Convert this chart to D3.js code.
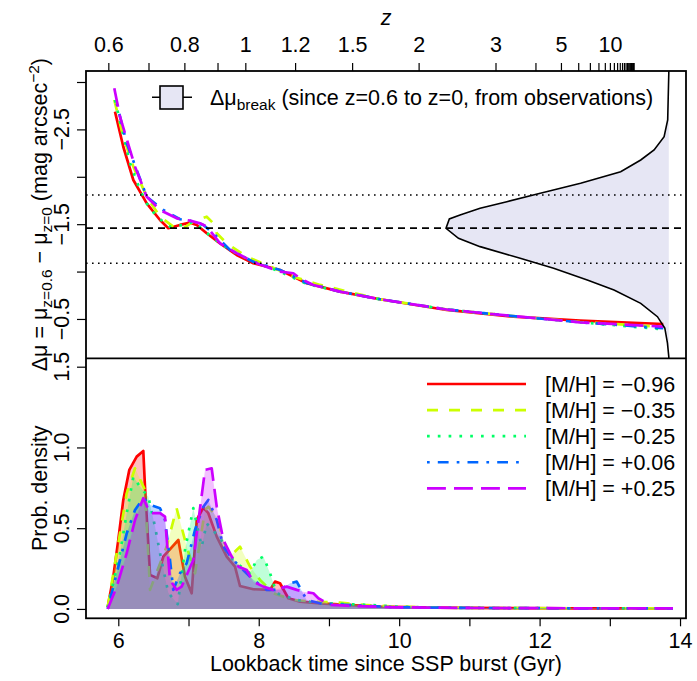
<!DOCTYPE html>
<html><head><meta charset="utf-8">
<script src="https://cdn.jsdelivr.net/npm/d3@7/dist/d3.min.js"></script>
<style>
body{margin:0;background:#fff}
svg{display:block}
text{font-family:"Liberation Sans",Arial,Helvetica,sans-serif;fill:#000}
</style>
</head><body>
<svg id="chart" width="697" height="681"></svg>
<script>
// ---------------- data ----------------
const seriesLabels = ["[M/H] = −0.96","[M/H] = −0.35","[M/H] = −0.25","[M/H] = +0.06","[M/H] = +0.25"];
const seriesColors = ["#FF0000","#CCFF00","#00FF66","#0066FF","#CC00FF"];

// Top panel: Delta mu vs lookback time (Gyr)
const muT_m096 = [5.953,6.071,6.214,6.405,6.594,6.712,6.879,7.021,7.117,7.259,7.449,7.686,7.923,8.303,8.683,9.157,9.727,10.677,11.626,12.576,13.762];
const mu_m096  = [-2.687,-2.317,-1.966,-1.720,-1.544,-1.457,-1.492,-1.516,-1.492,-1.404,-1.298,-1.175,-1.088,-1.017,-0.877,-0.788,-0.708,-0.595,-0.524,-0.482,-0.447];
const muT_m035 = [5.943,6.071,6.214,6.405,6.594,6.783,6.926,7.068,7.259,7.353,7.402,7.544,7.829,8.114,8.493,8.873,9.727,10.677,11.626,12.576,13.762];
const mu_m035  = [-2.810,-2.423,-2.107,-1.790,-1.579,-1.474,-1.457,-1.526,-1.579,-1.509,-1.404,-1.298,-1.157,-1.070,-0.946,-0.859,-0.708,-0.600,-0.530,-0.468,-0.416];
const muT_m025 = [5.953,6.167,6.309,6.405,6.547,6.736,6.926,7.068,7.211,7.353,7.591,7.923,8.303,8.683,9.158,9.727,10.677,11.626,12.576,13.762];
const mu_m025  = [-2.810,-2.142,-1.861,-1.720,-1.579,-1.474,-1.492,-1.526,-1.439,-1.351,-1.228,-1.104,-0.999,-0.870,-0.788,-0.708,-0.600,-0.530,-0.465,-0.391];
const muT_p006 = [5.977,6.120,6.262,6.405,6.641,6.879,7.021,7.211,7.353,7.591,7.923,8.303,8.683,9.158,9.727,10.677,11.626,12.576,13.762];
const mu_p006  = [-2.775,-2.353,-2.072,-1.790,-1.650,-1.552,-1.537,-1.492,-1.404,-1.228,-1.104,-1.017,-0.880,-0.788,-0.708,-0.600,-0.530,-0.465,-0.402];
const muT_p025 = [5.943,6.024,6.238,6.405,6.594,6.832,7.021,7.164,7.259,7.449,7.686,7.971,8.303,8.493,8.588,8.777,9.158,9.727,10.677,11.626,12.576,13.762];
const mu_p025  = [-2.934,-2.634,-2.107,-1.790,-1.650,-1.562,-1.537,-1.509,-1.474,-1.298,-1.193,-1.088,-0.999,-0.982,-0.929,-0.859,-0.788,-0.708,-0.600,-0.530,-0.465,-0.419];

// Observed Delta mu_break distribution (relative density)
const obsMu      = [-3.116,-3.092,-2.599,-2.423,-2.283,-2.177,-2.054,-1.932,-1.826,-1.737,-1.668,-1.597,-1.555,-1.457,-1.351,-1.263,-1.140,-1.035,-0.911,-0.806,-0.665,-0.524,-0.405,-0.244,-0.102,-0.085];
const obsDensity = [0,0,0.005,0.021,0.066,0.126,0.216,0.396,0.577,0.727,0.847,0.937,0.985,1.0,0.944,0.847,0.667,0.517,0.366,0.246,0.126,0.051,0.018,0.006,0,0];
const obsMean = -1.458;
const obsSigmaLines = [-1.808,-1.088];

// Bottom panel: probability density vs lookback time (Gyr)
const pdT_m096 = [5.849,5.929,6.000,6.071,6.157,6.262,6.356,6.380,6.452,6.556,6.641,6.855,6.950,7.045,7.117,7.211,7.282,7.402,7.544,7.662,7.733,7.923,8.161,8.232,8.303,8.421,8.588,8.873,9.253,9.727,10.5,11.5,12.5,13.9];
const pd_m096  = [0.010,0.200,0.427,0.675,0.861,0.943,0.978,0.757,0.211,0.190,0.324,0.427,0.200,0.097,0.551,0.627,0.593,0.448,0.324,0.262,0.142,0.122,0.118,0.169,0.159,0.066,0.045,0.035,0.025,0.014,0.008,0.005,0.004,0.003];
const pdT_m035 = [5.849,6.024,6.120,6.238,6.380,6.452,6.523,6.689,6.830,6.974,7.093,7.235,7.282,7.402,7.496,7.590,7.733,7.876,8.019,8.208,8.493,8.778,9.158,9.490,9.970,10.5,11.5,12.5,13.9];
const pd_m035  = [0.010,0.468,0.716,0.871,0.737,0.118,0.200,0.386,0.624,0.386,0.221,0.613,0.633,0.571,0.427,0.324,0.386,0.262,0.180,0.097,0.056,0.045,0.039,0.025,0.014,0.008,0.005,0.004,0.003];
const pdT_m025 = [5.849,6.024,6.120,6.214,6.309,6.427,6.523,6.594,6.712,6.846,6.950,7.068,7.188,7.259,7.330,7.449,7.544,7.686,7.876,7.971,8.066,8.161,8.256,8.541,8.873,9.585,9.970,10.5,11.5,12.5,13.9];
const pd_m025  = [0.010,0.345,0.592,0.819,0.757,0.695,0.510,0.345,0.100,0.030,0.365,0.624,0.386,0.531,0.490,0.448,0.345,0.283,0.221,0.303,0.324,0.221,0.097,0.056,0.035,0.025,0.014,0.008,0.005,0.004,0.003];
const pdT_p006 = [5.849,5.977,6.120,6.238,6.356,6.452,6.594,6.665,6.736,6.783,6.879,6.974,7.093,7.211,7.282,7.402,7.496,7.638,7.780,7.923,8.113,8.303,8.446,8.541,8.683,8.873,9.250,9.970,10.5,11.5,12.5,13.9];
const pd_p006  = [0.000,0.221,0.468,0.613,0.686,0.644,0.624,0.551,0.303,0.118,0.221,0.283,0.490,0.633,0.675,0.551,0.386,0.303,0.241,0.180,0.118,0.118,0.159,0.169,0.056,0.035,0.025,0.010,0.008,0.005,0.004,0.003];
const pdT_p025 = [5.849,5.977,6.120,6.238,6.356,6.452,6.594,6.665,6.736,6.830,6.902,7.068,7.235,7.330,7.402,7.496,7.615,7.709,7.829,7.923,8.066,8.208,8.398,8.541,8.636,8.778,8.849,9.016,9.250,9.970,10.5,11.5,12.5,13.9];
const pd_p025  = [0.000,0.138,0.345,0.551,0.686,0.593,0.593,0.571,0.180,0.118,0.138,0.303,0.861,0.871,0.633,0.427,0.324,0.262,0.241,0.169,0.138,0.118,0.138,0.118,0.107,0.097,0.066,0.025,0.020,0.010,0.008,0.005,0.004,0.003];

// Axis ticks
const timeTicks = [6,7,8,9,10,11,12,13,14];
const timeTickLabels = ["6","","8","","10","","12","","14"];
const muTicks = [-3.0,-2.5,-2.0,-1.5,-1.0,-0.5];
const muTickLabels = ["","−2.5","","−1.5","","−0.5"];
const pdTicks = [0,0.5,1.0,1.5];
const pdTickLabels = ["0.0","0.5","1.0","1.5"];
const zTickValues = [0.6,0.7,0.8,0.9,1,1.2,1.5,2,3,4,5,6,7,8,9,10,11,12,13,14,15,16,17,18,19,20,21,22,23,24,25];
const zTickTimes  = [5.858,6.430,6.941,7.413,7.809,8.518,9.330,10.277,11.372,11.941,12.304,12.550,12.716,12.838,12.929,13.001,13.058,13.104,13.142,13.174,13.201,13.224,13.244,13.262,13.277,13.290,13.302,13.313,13.322,13.331,13.339];
const zTickLabels = ["0.6","","0.8","","1","1.2","1.5","2","3","","5","","","","","10","","","","","","","","","","","","","","",""];

// ---------------- layout ----------------
const L = 86, R = 686, T = 71, MID = 358.3, B = 618.3;
const FS = 21.5;
const LW = 2.7;
const dashes = [null, "11,11", "2.7,8.1", "2.7,8.1,10.8,8.1", "18.9,8.1"];

const svg = d3.select("#chart");
const x = d3.scaleLinear().domain([5.54, 14.085]).range([L, R]);
const yTop = d3.scaleLinear().domain([-3.116, -0.085]).range([T, MID]);
const yBot = d3.scaleLinear().domain([-0.058, 1.552]).range([B, MID]);

const defs = svg.append("defs");
defs.append("clipPath").attr("id","clipTop").append("rect").attr("x",L).attr("y",T).attr("width",R-L).attr("height",MID-T);
defs.append("clipPath").attr("id","clipBot").append("rect").attr("x",L).attr("y",MID).attr("width",R-L).attr("height",B-MID);

// ---- top panel ----
const gTop = svg.append("g").attr("clip-path","url(#clipTop)");
const obsData = obsMu.map((m,i)=>[m, obsDensity[i]]);
const xd = d3.scaleLinear().domain([0,1]).range([x(13.84), x(10.667)]);
gTop.append("path")
  .attr("d", d3.area().y(d=>yTop(d[0])).x0(xd(0)).x1(d=>xd(d[1]))(obsData))
  .attr("fill","#E6E6F4").attr("stroke","none");

const muSeries = [[muT_m096,mu_m096],[muT_m035,mu_m035],[muT_m025,mu_m025],[muT_p006,mu_p006],[muT_p025,mu_p025]];
const lineTop = d3.line().x(d=>x(d[0])).y(d=>yTop(d[1]));
muSeries.forEach((s,i)=>{
  const pts = s[0].map((t,j)=>[t,s[1][j]]);
  gTop.append("path").attr("d", lineTop(pts)).attr("fill","none")
    .attr("stroke", seriesColors[i]).attr("stroke-width", LW)
    .attr("stroke-dasharray", dashes[i]).attr("stroke-linejoin","round");
});

gTop.append("path")
  .attr("d", d3.line().y(d=>yTop(d[0])).x(d=>xd(d[1]))(obsData))
  .attr("fill","none").attr("stroke","#000").attr("stroke-width",1.6);

gTop.append("line").attr("x1",L).attr("x2",R).attr("y1",yTop(obsMean)).attr("y2",yTop(obsMean))
  .attr("stroke","#000").attr("stroke-width",1.6).attr("stroke-dasharray","7,5");
obsSigmaLines.forEach(v=>{
  gTop.append("line").attr("x1",L).attr("x2",R).attr("y1",yTop(v)).attr("y2",yTop(v))
    .attr("stroke","#000").attr("stroke-width",1.6).attr("stroke-dasharray","1.6,4.4");
});

// ---- bottom panel ----
const gBot = svg.append("g").attr("clip-path","url(#clipBot)");
const pdSeries = [[pdT_m096,pd_m096],[pdT_m035,pd_m035],[pdT_m025,pd_m025],[pdT_p006,pd_p006],[pdT_p025,pd_p025]];
const areaBot = d3.area().x(d=>x(d[0])).y0(yBot(0)).y1(d=>yBot(d[1]));
const lineBot = d3.line().x(d=>x(d[0])).y(d=>yBot(d[1]));
pdSeries.forEach((s,i)=>{
  const pts = s[0].map((t,j)=>[t,s[1][j]]);
  gBot.append("path").attr("d", areaBot(pts)).attr("fill", seriesColors[i]).attr("fill-opacity",0.25).attr("stroke","none");
  gBot.append("path").attr("d", lineBot(pts)).attr("fill","none")
    .attr("stroke", seriesColors[i]).attr("stroke-width", LW)
    .attr("stroke-dasharray", dashes[i]).attr("stroke-linejoin","round");
});

// ---- frames ----
svg.append("rect").attr("x",L).attr("y",T).attr("width",R-L).attr("height",B-T)
  .attr("fill","none").attr("stroke","#000").attr("stroke-width",1.8);
svg.append("line").attr("x1",L).attr("x2",R).attr("y1",MID).attr("y2",MID)
  .attr("stroke","#000").attr("stroke-width",1.8);

// ---- axes ----
function styleAxis(g){
  g.select(".domain").remove();
  g.selectAll(".tick line").attr("stroke","#000").attr("stroke-width",1.2);
  g.selectAll(".tick text").style("font-size",FS+"px").attr("fill","#000");
}
const axB = svg.append("g").attr("transform",`translate(0,${B})`)
  .call(d3.axisBottom(x).tickValues(timeTicks).tickSize(8).tickFormat((d,i)=>timeTickLabels[i]));
styleAxis(axB);
axB.selectAll(".tick text").attr("y",30).attr("dy",0);

const axT = svg.append("g").attr("transform",`translate(0,${T})`)
  .call(d3.axisTop(x).tickValues(zTickTimes).tickSize(8).tickFormat((d,i)=>zTickLabels[i]));
styleAxis(axT);
axT.selectAll(".tick text").attr("y",-19).attr("dy",0);

const axLT = svg.append("g").attr("transform",`translate(${L},0)`)
  .call(d3.axisLeft(yTop).tickValues(muTicks).tickSize(9).tickFormat(""));
styleAxis(axLT);
muTicks.forEach((v,i)=>{
  if(!muTickLabels[i]) return;
  svg.append("text").attr("transform",`translate(69,${yTop(v)}) rotate(-90)`)
    .attr("text-anchor","middle").style("font-size",FS+"px").text(muTickLabels[i]);
});
const axLB = svg.append("g").attr("transform",`translate(${L},0)`)
  .call(d3.axisLeft(yBot).tickValues(pdTicks).tickSize(9).tickFormat(""));
styleAxis(axLB);
pdTicks.forEach((v,i)=>{
  svg.append("text").attr("transform",`translate(69,${yBot(v)}) rotate(-90)`)
    .attr("text-anchor","middle").style("font-size",FS+"px").text(pdTickLabels[i]);
});

// ---- axis titles ----
svg.append("text").attr("x",(L+R)/2).attr("y",671).attr("text-anchor","middle")
  .style("font-size",FS+"px").text("Lookback time since SSP burst (Gyr)");
svg.append("text").attr("x",(L+R)/2).attr("y",25).attr("text-anchor","middle")
  .style("font-size",FS+"px").style("font-style","italic").text("z");
svg.append("text").attr("transform",`translate(47,${(B+MID)/2}) rotate(-90)`)
  .attr("text-anchor","middle").style("font-size",FS+"px").text("Prob. density");

const ttl = svg.append("text").attr("transform",`translate(47,${(T+MID)/2}) rotate(-90)`)
  .attr("text-anchor","middle").style("font-size",FS+"px");
const SUB = 0.72*FS;
ttl.append("tspan").text("Δμ = μ");
ttl.append("tspan").attr("dy",5).style("font-size",SUB+"px").text("z=0.6");
ttl.append("tspan").attr("dy",-5).text(" − μ");
ttl.append("tspan").attr("dy",5).style("font-size",SUB+"px").text("z=0");
ttl.append("tspan").attr("dy",-5).text(" (mag arcsec");
ttl.append("tspan").attr("dy",-8).style("font-size",SUB+"px").text("−2");
ttl.append("tspan").attr("dy",8).text(")");

// ---- top legend ----
const lgT = svg.append("g");
lgT.append("line").attr("x1",152).attr("x2",192).attr("y1",97.3).attr("y2",97.3).attr("stroke","#000").attr("stroke-width",1.6);
lgT.append("rect").attr("x",160).attr("y",86).attr("width",23).attr("height",23)
  .attr("fill","#E6E6F4").attr("stroke","#000").attr("stroke-width",1.6);
const lt = lgT.append("text").attr("x",210).attr("y",105).style("font-size",FS+"px");
lt.append("tspan").text("Δμ");
lt.append("tspan").attr("dy",5).style("font-size",SUB+"px").text("break");
lt.append("tspan").attr("dy",-5).text(" (since z=0.6 to z=0, from observations)");

// ---- bottom legend ----
const legRowY = d3.scaleLinear().domain([0,4]).range([384,488.3]);
seriesLabels.forEach((lab,i)=>{
  const yy = legRowY(i);
  svg.append("line").attr("x1",427).attr("x2",526).attr("y1",yy).attr("y2",yy)
    .attr("stroke",seriesColors[i]).attr("stroke-width",LW).attr("stroke-dasharray",dashes[i]);
  svg.append("text").attr("x",545).attr("y",yy+7.7).style("font-size",FS+"px").text(lab);
});
</script>
</body></html>
